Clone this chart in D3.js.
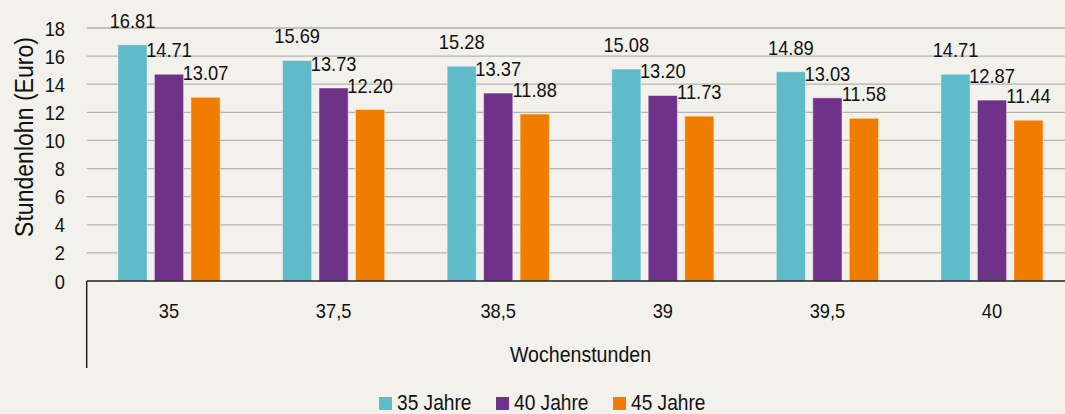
<!DOCTYPE html>
<html><head><meta charset="utf-8">
<script src="https://cdn.jsdelivr.net/npm/d3@7/dist/d3.min.js"></script>
<style>
html,body{margin:0;padding:0;background:#f2f1eb;}
svg{display:block;font-family:"Liberation Sans",Arial,sans-serif;}
</style></head>
<body>
<svg id="chart" width="1065" height="414"></svg>
<script>
const categories = ["35","37,5","38,5","39","39,5","40"];
const seriesNames = ["35 Jahre","40 Jahre","45 Jahre"];
const values35 = [16.81,15.69,15.28,15.08,14.89,14.71];
const values40 = [14.71,13.73,13.37,13.20,13.03,12.87];
const values45 = [13.07,12.20,11.88,11.73,11.58,11.44];
const yTicks = [0,2,4,6,8,10,12,14,16,18];
const colors = ["#5fbbca","#6f3289","#f07d00"];

(function(){
const series = [values35, values40, values45];
const svg = d3.select("#chart");
const pLeft = 86.7, pRight = 1074.3, pTop = 28, pBottom = 281;
const SX = 0.87; // condensed look of the reference font
const tr = (x, y, rot) => `translate(${x},${y})` + (rot ? ` rotate(${rot})` : "") + ` scale(${SX},1)`;

const x0 = d3.scaleBand().domain(categories).range([pLeft, pRight]).padding(0);
const x1 = d3.scaleBand().domain(seriesNames).range([0, 109.5]).paddingInner(0.2).paddingOuter(0.1);
const y = d3.scaleLinear().domain([0,18]).range([pBottom, pTop]);

svg.append("g").selectAll("line").data(yTicks.filter(d=>d>0)).join("line")
  .attr("x1", pLeft).attr("x2", 1065)
  .attr("y1", d=>y(d)).attr("y2", d=>y(d))
  .attr("stroke","#b3b2ae").attr("stroke-width",1.3);

svg.append("g").selectAll("text").data(yTicks).join("text")
  .attr("transform", d => tr(65, y(d))).attr("dy","0.36em")
  .attr("text-anchor","end").attr("font-size",21).attr("fill","#111")
  .text(d=>d);

const groups = svg.append("g").selectAll("g").data(categories).join("g")
  .attr("transform", c => `translate(${x0(c) + x0.bandwidth()/2 - 54.75},0)`);
seriesNames.forEach((s, si) => {
  groups.append("rect")
    .attr("x", x1(s))
    .attr("width", x1.bandwidth())
    .attr("y", c => y(series[si][categories.indexOf(c)]))
    .attr("height", c => pBottom - y(series[si][categories.indexOf(c)]))
    .attr("fill", colors[si])
    .attr("stroke","rgba(255,255,255,0.45)").attr("stroke-width",1);
  groups.append("text")
    .attr("transform", c => tr(x1(s) + x1.bandwidth()/2, y(series[si][categories.indexOf(c)]) - 17))
    .attr("text-anchor","middle").attr("font-size",21).attr("fill","#111")
    .text(c => series[si][categories.indexOf(c)].toFixed(2));
});

svg.append("line").attr("x1",pLeft).attr("x2",1065).attr("y1",pBottom).attr("y2",pBottom)
  .attr("stroke","#222").attr("stroke-width",1.5);
svg.append("line").attr("x1",pLeft).attr("x2",pLeft).attr("y1",pBottom).attr("y2",368)
  .attr("stroke","#222").attr("stroke-width",1.5);

svg.append("g").selectAll("text").data(categories).join("text")
  .attr("transform", c => tr(x0(c) + x0.bandwidth()/2, 318))
  .attr("text-anchor","middle").attr("font-size",21).attr("fill","#111")
  .text(c=>c);

svg.append("text").attr("transform", tr((pLeft+pRight)/2, 362))
  .attr("text-anchor","middle").attr("font-size",22.5).attr("fill","#111")
  .text("Wochenstunden");
svg.append("text").attr("transform", `translate(33,137) rotate(-90) scale(${SX},1)`)
  .attr("text-anchor","middle").attr("font-size",26.5).attr("fill","#111")
  .text("Stundenlohn (Euro)");

const legX = [379, 496, 613];
const leg = svg.append("g").selectAll("g").data(seriesNames).join("g")
  .attr("transform",(d,i)=>`translate(${legX[i]},397)`);
leg.append("rect").attr("width",13).attr("height",13).attr("fill",(d,i)=>colors[i]);
leg.append("text").attr("transform", tr(18, 13)).attr("font-size",22).attr("fill","#111").text(d=>d);
})();
</script>
</body></html>
